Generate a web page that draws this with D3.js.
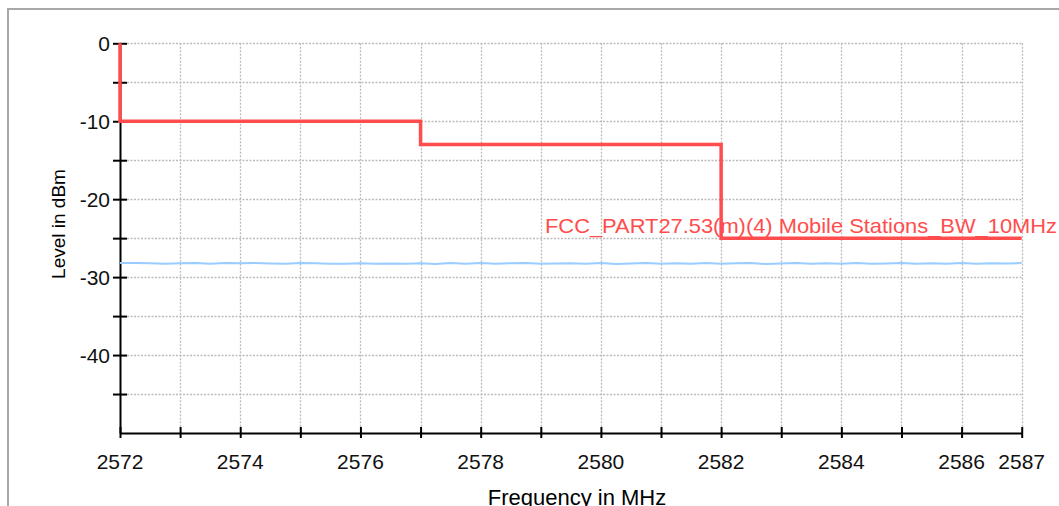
<!DOCTYPE html>
<html>
<head>
<meta charset="utf-8">
<script src="https://cdn.jsdelivr.net/npm/d3@7"></script>
<style>
  html, body { margin: 0; padding: 0; background: #fff; }
  svg { display: block; }
</style>
</head>
<body>
<svg id="chart" width="1059" height="506"></svg>
<script>
// ---- data ----
const freqDomain = [2572, 2587];
const levelDomain = [-50, 0];
const freqTicks = [2572, 2573, 2574, 2575, 2576, 2577, 2578, 2579, 2580, 2581, 2582, 2583, 2584, 2585, 2586, 2587];
const freqTickLabels = [2572, 2574, 2576, 2578, 2580, 2582, 2584, 2586, 2587];
const levelTicks = [0, -5, -10, -15, -20, -25, -30, -35, -40, -45];
const levelTickLabels = [0, -10, -20, -30, -40];
const limitFreq = [2572, 2572, 2577, 2577, 2582, 2582, 2587];
const limitLevel = [0, -10, -10, -13, -13, -25, -25];
const limitName = "FCC_PART27.53(m)(4) Mobile Stations_BW_10MHz";
const traceStart = 2572, traceStop = 2587;
const traceLevel = [
  -28.20, -28.20, -28.22, -28.30, -28.21, -28.20, -28.28, -28.20, -28.21, -28.20,
  -28.25, -28.30, -28.20, -28.22, -28.30, -28.28, -28.22, -28.30, -28.24, -28.30,
  -28.22, -28.32, -28.20, -28.28, -28.20, -28.30, -28.22, -28.20, -28.30, -28.26,
  -28.22, -28.30, -28.20, -28.32, -28.24, -28.20, -28.30, -28.22, -28.28, -28.20,
  -28.30, -28.22, -28.20, -28.32, -28.26, -28.20, -28.30, -28.22, -28.28, -28.20,
  -28.30, -28.24, -28.20, -28.30, -28.22, -28.28, -28.20, -28.30, -28.22, -28.26,
  -28.20
];
const xTitle = "Frequency in MHz";
const yTitle = "Level in dBm";

// ---- layout ----
const svg = d3.select("#chart");
const X0 = 120, X1 = 1021.7, Y0 = 43.3, Y1 = 433;
const x = d3.scaleLinear().domain(freqDomain).range([X0, X1]);
const y = d3.scaleLinear().domain(levelDomain).range([Y1, Y0]);
const tickFont = "'Liberation Sans', Arial, sans-serif";

// outer frame
svg.append("line").attr("x1", 8).attr("x2", 1059).attr("y1", 9).attr("y2", 9)
  .attr("stroke", "#a8a8a8").attr("stroke-width", 2);
svg.append("line").attr("x1", 8).attr("x2", 8).attr("y1", 8).attr("y2", 506)
  .attr("stroke", "#a8a8a8").attr("stroke-width", 2);

// grid
const grid = svg.append("g").attr("stroke", "#bcbcbc").attr("stroke-width", 1.3)
  .attr("stroke-dasharray", "2,1.5").attr("fill", "none");
grid.selectAll("line.v").data(freqTicks.filter(f => f !== freqDomain[0])).join("line")
  .attr("x1", d => Math.round(x(d)) + 0.5).attr("x2", d => Math.round(x(d)) + 0.5)
  .attr("y1", Y0).attr("y2", Y1);
grid.selectAll("line.h").data(levelTicks).join("line")
  .attr("x1", X0).attr("x2", X1)
  .attr("y1", d => Math.round(y(d)) + 0.5).attr("y2", d => Math.round(y(d)) + 0.5);

// axes
const xAxis = d3.axisBottom(x).tickValues(freqTicks).tickSize(0).tickFormat("");
const yAxis = d3.axisLeft(y).tickValues(levelTicks).tickSize(0).tickFormat("");
const gx = svg.append("g").attr("transform", `translate(0,${Y1})`).call(xAxis);
const gy = svg.append("g").attr("transform", `translate(${X0},0)`).call(yAxis);
gx.select(".domain").attr("stroke", "#000").attr("stroke-width", 2);
gy.select(".domain").attr("stroke", "#000").attr("stroke-width", 2);
gx.selectAll(".tick line").attr("y1", -6).attr("y2", 5).attr("stroke", "#000").attr("stroke-width", 2);
gy.selectAll(".tick line").attr("x1", -7).attr("x2", 7).attr("stroke", "#000").attr("stroke-width", 2);

// tick labels
svg.append("g").selectAll("text").data(freqTickLabels).join("text")
  .attr("x", d => x(d)).attr("y", 469)
  .attr("text-anchor", "middle")
  .attr("font-family", tickFont).attr("font-size", 21).attr("fill", "#111")
  .text(d => d);
svg.append("g").selectAll("text").data(levelTickLabels).join("text")
  .attr("x", 110).attr("y", d => y(d) + 7.5)
  .attr("text-anchor", "end")
  .attr("font-family", tickFont).attr("font-size", 21).attr("fill", "#111")
  .text(d => d);

// axis titles
svg.append("text").attr("x", 577).attr("y", 505).attr("text-anchor", "middle")
  .attr("font-family", tickFont).attr("font-size", 22).attr("fill", "#000")
  .text(xTitle);
svg.append("text").attr("transform", "translate(65,224) rotate(-90)")
  .attr("text-anchor", "middle")
  .attr("font-family", tickFont).attr("font-size", 19).attr("fill", "#000")
  .text(yTitle);

// measured trace
const step = (traceStop - traceStart) / (traceLevel.length - 1);
const trace = traceLevel.map((v, i) => [traceStart + i * step, v]);
svg.append("path").datum(trace)
  .attr("fill", "none").attr("stroke", "#99ccff").attr("stroke-width", 2)
  .attr("d", d3.line().x(d => x(d[0])).y(d => y(d[1])));

// limit line
const limit = limitFreq.map((f, i) => [f, limitLevel[i]]);
svg.append("path").datum(limit)
  .attr("fill", "none").attr("stroke", "#ff4d4d").attr("stroke-width", 3.5)
  .attr("d", d3.line().x(d => x(d[0])).y(d => y(d[1])));

// limit label
svg.append("text").attr("x", 545).attr("y", 233)
  .attr("font-family", tickFont).attr("font-size", 21).attr("fill", "#ff4d4d")
  .attr("textLength", 512).attr("lengthAdjust", "spacingAndGlyphs")
  .text(limitName);
</script>
</body>
</html>
